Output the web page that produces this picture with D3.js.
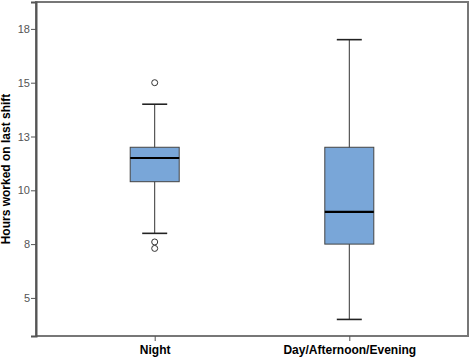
<!DOCTYPE html>
<html>
<head>
<meta charset="utf-8">
<script src="https://cdn.jsdelivr.net/npm/d3@7"></script>
<style>
  body { margin: 0; background: #fff; }
  text { font-family: "Liberation Sans", Arial, sans-serif; }
</style>
</head>
<body>
<svg id="chart" width="472" height="358"></svg>
<script>
// Box plot data
var categories = ["Night", "Day/Afternoon/Evening"];
var whiskerLow = [8.0, 4.0];
var q1 = [10.4, 7.5];
var median = [11.5, 9.0];
var q3 = [12.0, 12.0];
var whiskerHigh = [14.0, 17.0];
var outliers = [[15.0, 7.6, 7.3], []];

var tickValues = [5, 7.5, 10, 12.5, 15, 17.5];
var tickLabels = ["5", "8", "10", "13", "15", "18"];

var svg = d3.select("#chart");
var plotLeft = 36, plotRight = 468, plotTop = 2, plotBottom = 336;

var x = d3.scalePoint().domain(categories).range([plotLeft, plotRight]).padding(0.61);
var y = d3.scaleLinear().domain([3.23, 18.75]).range([plotBottom, plotTop]);

var boxW = 49, capW = 25;

// frame
svg.append("rect")
  .attr("x", plotLeft).attr("y", plotTop)
  .attr("width", plotRight - plotLeft).attr("height", plotBottom - plotTop)
  .attr("fill", "none").attr("stroke", "#777").attr("stroke-width", 2);

// y axis
var yAxis = svg.append("g")
  .attr("transform", "translate(" + plotLeft + ",0)")
  .call(d3.axisLeft(y).tickValues(tickValues).tickSize(5)
    .tickFormat(function (d, i) { return tickLabels[i]; }));
yAxis.select(".domain").attr("stroke", "#555").attr("stroke-width", 2);
yAxis.selectAll(".tick line").attr("stroke", "#555");
yAxis.selectAll(".tick text").attr("fill", "#555").style("font-size", "11px")
  .attr("x", -6);

// x axis
var xAxis = svg.append("g")
  .attr("transform", "translate(0," + plotBottom + ")")
  .call(d3.axisBottom(x).tickSize(5).tickSizeOuter(0));
xAxis.select(".domain").remove();
xAxis.selectAll(".tick line").attr("stroke", "#555");
xAxis.selectAll(".tick text").attr("fill", "#000")
  .style("font-size", "12px").style("font-weight", "bold")
  .attr("y", 9);

// y axis title
svg.append("text")
  .attr("transform", "translate(10," + ((plotTop + plotBottom) / 2) + ") rotate(-90)")
  .style("text-anchor", "middle")
  .style("font-size", "12px").style("font-weight", "bold")
  .text("Hours worked on last shift");

// boxes
var g = svg.selectAll("g.box").data(categories).enter().append("g").attr("class", "box");

g.append("line")
  .attr("x1", function (d) { return x(d); }).attr("x2", function (d) { return x(d); })
  .attr("y1", function (d, i) { return y(whiskerLow[i]); })
  .attr("y2", function (d, i) { return y(whiskerHigh[i]); })
  .attr("stroke", "#333").attr("stroke-width", 1);

g.selectAll("line.cap")
  .data(function (d, i) { return [[d, whiskerLow[i]], [d, whiskerHigh[i]]]; })
  .enter().append("line").attr("class", "cap")
  .attr("x1", function (p) { return x(p[0]) - capW / 2; })
  .attr("x2", function (p) { return x(p[0]) + capW / 2; })
  .attr("y1", function (p) { return y(p[1]); })
  .attr("y2", function (p) { return y(p[1]); })
  .attr("stroke", "#222").attr("stroke-width", 1.6);

g.append("rect")
  .attr("x", function (d) { return x(d) - boxW / 2; })
  .attr("y", function (d, i) { return y(q3[i]); })
  .attr("width", boxW)
  .attr("height", function (d, i) { return y(q1[i]) - y(q3[i]); })
  .attr("fill", "#79a6d8").attr("stroke", "#444").attr("stroke-width", 1);

g.append("line")
  .attr("x1", function (d) { return x(d) - boxW / 2; })
  .attr("x2", function (d) { return x(d) + boxW / 2; })
  .attr("y1", function (d, i) { return y(median[i]); })
  .attr("y2", function (d, i) { return y(median[i]); })
  .attr("stroke", "#000").attr("stroke-width", 2.2);

g.selectAll("circle")
  .data(function (d, i) { return outliers[i].map(function (v) { return [d, v]; }); })
  .enter().append("circle")
  .attr("cx", function (p) { return x(p[0]); })
  .attr("cy", function (p) { return y(p[1]); })
  .attr("r", 3)
  .attr("fill", "#fff").attr("stroke", "#333").attr("stroke-width", 1);
</script>
</body>
</html>
